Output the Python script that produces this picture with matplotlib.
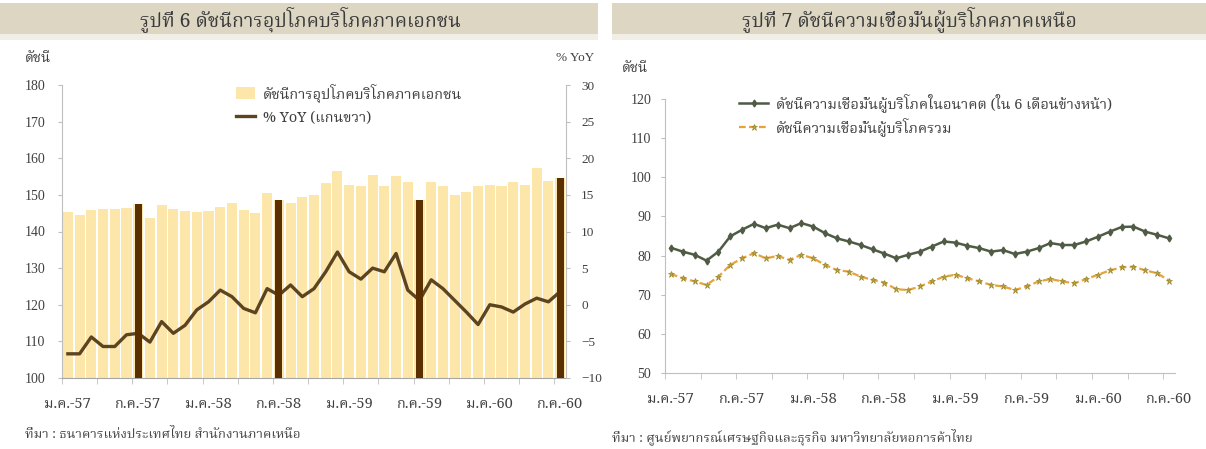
import numpy as np
import matplotlib
matplotlib.use("Agg")
import matplotlib.pyplot as plt
import matplotlib.font_manager as fm
from matplotlib.ft2font import FT2Font
from matplotlib.patches import Rectangle, Patch
from matplotlib.lines import Line2D

# ---------------- data ----------------
month_abbr = ['ม.ค.', 'ก.พ.', 'มี.ค.', 'เม.ย.', 'พ.ค.', 'มิ.ย.',
              'ก.ค.', 'ส.ค.', 'ก.ย.', 'ต.ค.', 'พ.ย.', 'ธ.ค.']
years = ['57', '58', '59', '60']
months = [f"{m}-{y}" for y in years for m in month_abbr][:43]

consumption_index = [145.4, 144.5, 145.9, 146.1, 146.2, 146.3, 147.5, 143.6, 147.3, 146.1,
                     145.5, 145.2, 145.7, 146.8, 147.7, 145.9, 145.0, 150.4, 148.6, 147.7,
                     149.5, 150.0, 153.2, 156.4, 152.7, 152.3, 155.5, 152.3, 155.2, 153.6,
                     148.5, 153.6, 152.3, 150.0, 150.9, 152.3, 152.7, 152.3, 153.6, 152.7,
                     157.3, 153.9, 154.5]
consumption_yoy = [-6.7, -6.7, -4.4, -5.7, -5.7, -4.1, -3.9, -5.1, -2.3, -3.9,
                   -2.8, -0.7, 0.4, 2.0, 1.1, -0.5, -1.1, 2.2, 1.3, 2.7,
                   1.1, 2.2, 4.5, 7.2, 4.5, 3.5, 5.0, 4.5, 7.0, 2.0,
                   0.6, 3.4, 2.2, 0.6, -1.0, -2.7, 0.0, -0.3, -1.0, 0.1,
                   0.9, 0.4, 1.8]
highlight_months = ['ก.ค.-57', 'ก.ค.-58', 'ก.ค.-59', 'ก.ค.-60']

future_conf = [82.0, 81.0, 80.2, 78.7, 81.0, 84.9, 86.6, 88.1, 87.0, 87.9,
               87.0, 88.3, 87.4, 85.7, 84.4, 83.6, 82.7, 81.6, 80.5, 79.3,
               80.2, 81.0, 82.3, 83.6, 83.3, 82.5, 81.9, 81.0, 81.4, 80.4,
               81.0, 81.9, 83.2, 82.7, 82.7, 83.6, 84.8, 86.1, 87.3, 87.4,
               86.1, 85.3, 84.4]
overall_conf = [75.3, 74.2, 73.4, 72.5, 74.6, 77.6, 79.3, 80.6, 79.3, 79.9,
                78.9, 80.2, 79.3, 77.6, 76.3, 75.9, 74.6, 73.8, 73.1, 71.4,
                71.2, 72.1, 73.4, 74.6, 75.1, 74.2, 73.4, 72.5, 72.1, 71.2,
                72.1, 73.4, 74.0, 73.4, 72.9, 74.0, 75.1, 76.2, 77.0, 77.2,
                76.2, 75.5, 73.6]

title_left = 'รูปที่ 6 ดัชนีการอุปโภคบริโภคภาคเอกชน'
title_right = 'รูปที่ 7 ดัชนีความเชื่อมั่นผู้บริโภคภาคเหนือ'
label_index = 'ดัชนี'
label_yoy = '% YoY'
legend_left = ['ดัชนีการอุปโภคบริโภคภาคเอกชน', '% YoY (แกนขวา)']
legend_right = ['ดัชนีความเชื่อมั่นผู้บริโภคในอนาคต (ใน 6 เดือนข้างหน้า)',
                'ดัชนีความเชื่อมั่นผู้บริโภครวม']
source_left = 'ที่มา : ธนาคารแห่งประเทศไทย สำนักงานภาคเหนือ'
source_right = 'ที่มา : ศูนย์พยากรณ์เศรษฐกิจและธุรกิจ มหาวิทยาลัยหอการค้าไทย'

# ---------------- fonts ----------------
def thai_font_names():
    found = []
    for f in fm.fontManager.ttflist:
        try:
            cmap = FT2Font(f.fname).get_charmap()
        except Exception:
            continue
        if 0x0E01 in cmap and 0x0E35 in cmap and f.name not in found:
            found.append(f.name)
    return found

_found = thai_font_names()
_prefs = ['Kinnari', 'Norasi', 'Noto Serif Thai', 'TH Sarabun New', 'Laksaman',
          'Garuda', 'Loma', 'Noto Sans Thai Looped', 'Noto Sans Thai', 'Tlwg Typo']
thai = None
for p in _prefs:
    if p in _found:
        thai = p
        break
if thai is None and _found:
    thai = _found[0]
TH = ([thai] if thai else []) + ['Liberation Serif', 'DejaVu Sans']
NUM = ['Liberation Serif', 'DejaVu Serif']

plt.rcParams['font.family'] = TH

TXT = '#404040'
GRID = '#BFBFBF'

W, H = 1206, 449
fig = plt.figure(figsize=(W / 100, H / 100), dpi=100)
fig.patch.set_facecolor('white')

def fx(px):
    return px / W

def fy(py):
    return 1 - py / H

# title bands
for x0, x1 in [(0, 598), (612, 1206)]:
    fig.add_artist(Rectangle((fx(x0), fy(34)), fx(x1 - x0), 31 / H,
                             transform=fig.transFigure, facecolor='#DCD6C3',
                             edgecolor='none', zorder=0))
    fig.add_artist(Rectangle((fx(x0), fy(40)), fx(x1 - x0), 6 / H,
                             transform=fig.transFigure, facecolor='#F1EEE6',
                             edgecolor='none', zorder=0))
fig.text(fx(300), fy(19), title_left, ha='center', va='center', fontsize=14,
         color='#3a3a3a', family=TH, weight='bold')
fig.text(fx(909), fy(19), title_right, ha='center', va='center', fontsize=14,
         color='#3a3a3a', family=TH, weight='bold')

x = np.arange(len(months))

# ---------------- left chart ----------------
axL = fig.add_axes([fx(62), fy(378), fx(566 - 62), (378 - 85) / H])
light = '#FCE6AA'
dark = '#5A3003'
axL.bar(x, consumption_index, width=0.86, color=light, zorder=2)
axL.set_ylim(100, 180)
axL.set_xlim(-0.5, len(months) - 0.5)
axL.set_yticks(np.arange(100, 181, 10))

axR = axL.twinx()
axR.plot(x, consumption_yoy, color='#5C4420', lw=2.4, zorder=3)
axR.set_ylim(-10, 30)
axR.set_yticks(np.arange(-10, 31, 5))

axT = axL.twinx()
hl = [i for i, m in enumerate(months) if m in highlight_months]
axT.bar(x[hl], [consumption_index[i] for i in hl], width=0.6, color=dark, zorder=4)
axT.set_ylim(100, 180)
axT.axis('off')

for a in (axL, axR, axT):
    a.set_facecolor('none')
    a.spines['top'].set_visible(False)

axL.spines['left'].set_color(GRID)
axL.spines['right'].set_visible(False)
axL.spines['bottom'].set_color('#A6A6A6')
axR.spines['left'].set_visible(False)
axR.spines['bottom'].set_visible(False)
axR.spines['right'].set_color(GRID)

axL.tick_params(axis='y', length=3, color=GRID, labelsize=10, labelcolor=TXT, pad=9)
axR.tick_params(axis='y', length=3, color=GRID, labelsize=9.5, labelcolor=TXT, pad=8)
for lab in axL.get_yticklabels() + axR.get_yticklabels():
    lab.set_family(NUM)

def month_axis(ax):
    ax.set_xticks(x[::6])
    ax.set_xticklabels([months[i] for i in range(0, len(months), 6)])
    ax.set_xticks(np.arange(-0.5, len(months), 3), minor=True)
    ax.tick_params(axis='x', which='major', length=0, labelsize=10.5,
                   labelcolor=TXT, pad=14)
    ax.tick_params(axis='x', which='minor', length=4, color=GRID)

month_axis(axL)

fig.text(fx(25), fy(58), label_index, fontsize=10, color=TXT, va='center', family=TH)
fig.text(fx(594), fy(58), label_yoy, fontsize=9.5, color=TXT, va='center', ha='right',
         family=NUM)
fig.text(fx(25), fy(435), source_left, fontsize=9.5, color=TXT, va='center', family=TH)

handlesL = [Patch(facecolor=light, edgecolor='none'),
            Line2D([], [], color='#5C4420', lw=2.4)]
legL = axT.legend(handlesL, legend_left, loc='upper left', bbox_to_anchor=(0.32, 1.05),
                  frameon=False, fontsize=10.5, handlelength=1.3, handleheight=0.9,
                  labelspacing=0.55, handletextpad=0.5)
for t in legL.get_texts():
    t.set_color(TXT)

# ---------------- right chart ----------------
ax2 = fig.add_axes([fx(665), fy(373), fx(1175 - 665), (373 - 99) / H])
c_future = '#4F5B45'
c_overall = '#E9A23B'
ax2.plot(x, future_conf, color=c_future, lw=1.8, marker='d', ms=3.5,
         markerfacecolor=c_future, markeredgecolor=c_future, zorder=3)
ax2.plot(x, overall_conf, color=c_overall, lw=1.6, ls=(0, (3, 1.5)), marker='*',
         ms=5, markerfacecolor='#B7A23A', markeredgecolor='#9C8A2E',
         markeredgewidth=0.5, zorder=3)
ax2.set_ylim(50, 120)
ax2.set_yticks(np.arange(50, 121, 10))
ax2.set_xlim(-0.5, len(months) - 0.5)
for s in ('top', 'right'):
    ax2.spines[s].set_visible(False)
ax2.spines['left'].set_color(GRID)
ax2.spines['bottom'].set_color(GRID)
ax2.tick_params(axis='y', length=3, color=GRID, labelsize=10, labelcolor=TXT, pad=7)
for lab in ax2.get_yticklabels():
    lab.set_family(NUM)
month_axis(ax2)

fig.text(fx(622), fy(68), label_index, fontsize=10, color=TXT, va='center', family=TH)
fig.text(fx(612), fy(437), source_right, fontsize=9.5, color=TXT, va='center', family=TH)

handlesR = [Line2D([], [], color=c_future, lw=1.8, marker='d', ms=3.5),
            Line2D([], [], color=c_overall, lw=1.6, ls=(0, (3, 1.5)), marker='*', ms=5,
                   markerfacecolor='#B7A23A', markeredgecolor='#9C8A2E',
                   markeredgewidth=0.5)]
legR = ax2.legend(handlesR, legend_right, loc='upper left', bbox_to_anchor=(0.12, 1.07),
                  frameon=False, fontsize=10.5, handlelength=2.0, labelspacing=0.4,
                  handletextpad=0.5)
for t in legR.get_texts():
    t.set_color(TXT)

fig.savefig('out.png', dpi=100, facecolor='white')
